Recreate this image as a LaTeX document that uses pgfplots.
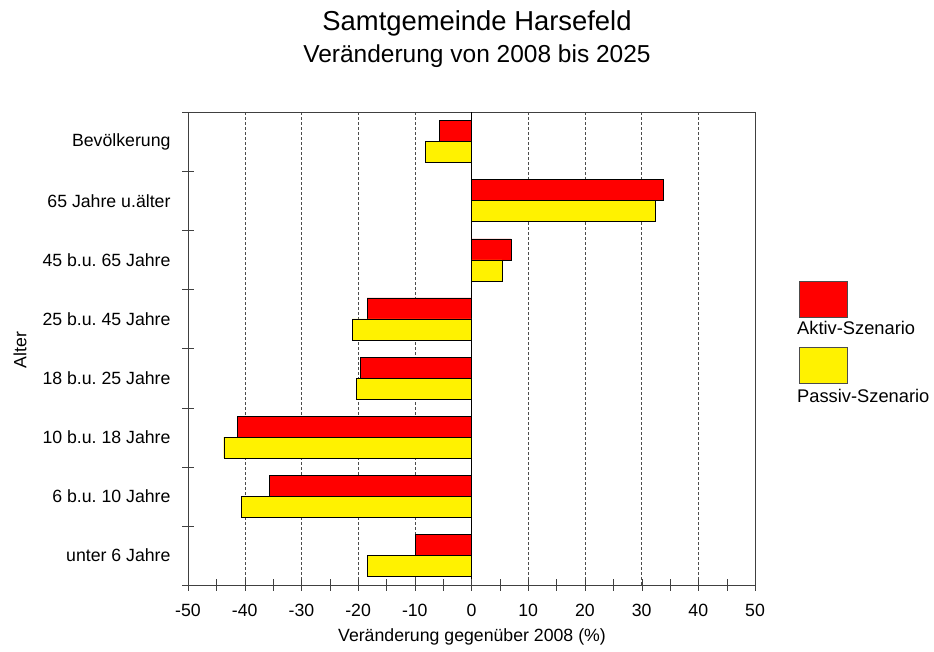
\documentclass[border=0pt]{standalone}
\usepackage{fontspec}
\setmainfont{Liberation Sans}
\usepackage{pgfplots}
\pgfplotsset{compat=1.18}
\begin{document}
\frenchspacing
\begin{tikzpicture}[x=1pt,y=1pt]
\useasboundingbox (0,0) rectangle (934,652);
\begin{axis}[
  at={(188pt,67pt)}, anchor=south west,
  scale only axis, width=567pt, height=473pt,
  xmin=-50, xmax=50, ymin=-0.5, ymax=7.5,
  xbar, bar width=0.355,
  axis line style={black!75},
  tick align=center,
  xtick pos=bottom, ytick pos=left,
  major tick length=12pt, minor tick length=12pt,
  tick style={black!75},
  xtick={-50,-40,...,50},
  xticklabels={-50,-40,-30,-20,-10,0,10,20,30,40,50},
  minor xtick={-45,-35,...,45},
  ytick={-0.5,0.5,...,7.5},
  yticklabels={},
  extra y ticks={0,1,2,3,4,5,6,7},
  extra y tick labels={unter 6 Jahre,6 b.u. 10 Jahre,10 b.u. 18 Jahre,18 b.u. 25 Jahre,25 b.u. 45 Jahre,45 b.u. 65 Jahre,65 Jahre u.älter,Bevölkerung},
  extra y tick style={major tick length=0pt, yticklabel style={xshift=-14pt}},
  xmajorgrids,
  major grid style={black!70, dash pattern=on 2.5pt off 2.5pt},
  extra x ticks={0},
  extra x tick labels={},
  extra x tick style={grid=major, major grid style={solid, black}},
  tick label style={font=\fontsize{17.7}{20}\selectfont},
  xticklabel style={yshift=-10pt},
]
\addplot[fill=red, draw=black, bar shift=0.1775] coordinates {(-9.9,0) (-35.6,1) (-41.3,2) (-19.6,3) (-18.4,4) (7.0,5) (33.8,6) (-5.7,7)};
\addplot[fill=yellow, draw=black, bar shift=-0.1775] coordinates {(-18.4,0) (-40.6,1) (-43.7,2) (-20.3,3) (-21.0,4) (5.4,5) (32.4,6) (-8.1,7)};
\end{axis}
\node at (477,629) {\fontsize{27.4}{32}\selectfont Samtgemeinde Harsefeld};
\node at (477,596) {\fontsize{24.5}{28}\selectfont Veränderung von 2008 bis 2025};
\node at (472,15) {\fontsize{17.7}{20}\selectfont Veränderung gegenüber 2008 (\%)};
\node[rotate=90] at (20,302) {\fontsize{17.7}{20}\selectfont Alter};
\draw[black!70, fill=red] (799,335) rectangle (847,371);
\node[anchor=west, inner sep=0pt] at (797,324) {\fontsize{18.3}{20}\selectfont Aktiv-Szenario};
\draw[black!70, fill=yellow] (799,269) rectangle (847,305);
\node[anchor=west, inner sep=0pt] at (797,256) {\fontsize{18.3}{20}\selectfont Passiv-Szenario};
\end{tikzpicture}
\end{document}
